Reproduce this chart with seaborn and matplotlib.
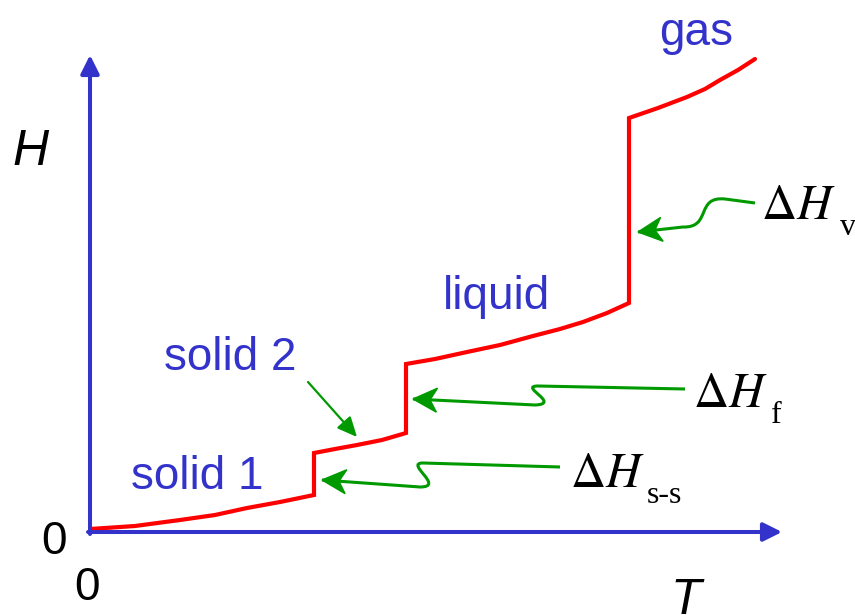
import numpy as np
import matplotlib
matplotlib.use("Agg")
import matplotlib.pyplot as plt
import seaborn as sns
from matplotlib.path import Path
from matplotlib.patches import PathPatch, Polygon

# enthalpy vs temperature, schematic (units ~ pixels of the original sketch)
T = [0, 45, 90, 125, 157, 190, 224,
     224, 245, 267, 292, 316,
     316, 345, 377, 410, 443, 470, 493, 517, 539,
     539, 568, 597, 615, 630, 648, 665]
H = [3, 6, 12, 17, 24, 30, 37,
     79, 83, 87, 92, 99,
     168, 173, 180, 187, 196, 203, 210, 219, 229,
     414, 424, 435, 443, 452, 462, 473]

phase_labels = ["solid 1", "solid 2", "liquid", "gas"]
phase_pos = [(197, 489), (230, 370), (496, 309), (696, 45)]

dh_main = [r"$\Delta H$", r"$\Delta H$", r"$\Delta H$"]
dh_sub = ["v", "f", "s-s"]
dh_pos = [(761, 219), (693, 407), (570, 487)]
dh_sub_pos = [(840, 235), (771, 423), (647, 503)]

BLUE = "#3333CC"
RED = "#FF0000"
GREEN = "#009A00"

sns.set_theme(style="white")
plt.rcParams["font.family"] = ["Liberation Sans", "DejaVu Sans"]
plt.rcParams["mathtext.fontset"] = "stix"
plt.rcParams["text.color"] = "black"


def px(x, y):
    # picture pixel -> data coords (origin at axis corner)
    return (x - 90, 532 - y)


fig = plt.figure(figsize=(8.55, 6.15), dpi=100)
ax = fig.add_axes([0, 0, 1, 1])
ax.set_xlim(-90, 765)
ax.set_ylim(-83, 532)
ax.axis("off")

# axes with arrow heads
arrow_kw = dict(arrowstyle="-|>,head_length=0.8,head_width=0.4", color=BLUE, lw=2.9,
                shrinkA=0, shrinkB=0, mutation_scale=14)
ax.annotate("", xy=(692, 0), xytext=(-2, 0), arrowprops=arrow_kw)
ax.annotate("", xy=(0, 477), xytext=(0, -2), arrowprops=arrow_kw)

# the H(T) curve
sns.lineplot(x=T, y=H, sort=False, estimator=None, color=RED, lw=3.0,
             solid_joinstyle="miter", ax=ax)


def stealth(tip, before, L=24, W=12, notch=7):
    tip = np.array(tip, float)
    u = tip - np.array(before, float)
    u /= np.hypot(*u)
    n = np.array([-u[1], u[0]])
    pts = [tip, tip - L * u + W * n, tip - (L - notch) * u, tip - L * u - W * n]
    ax.add_patch(Polygon(pts, closed=True, fc=GREEN, ec=GREEN, lw=1))


def wavy(points, codes):
    verts = [px(*p) for p in points]
    ax.add_patch(PathPatch(Path(verts, codes), fill=False, ec=GREEN, lw=2.2))
    stealth(verts[-1], verts[-2])


L4 = [Path.MOVETO, Path.LINETO, Path.CURVE4, Path.CURVE4, Path.CURVE4, Path.LINETO]
wavy([(755, 203), (725, 199), (695, 196), (712, 228), (683, 227), (638, 232)], L4)
wavy([(685, 389), (538, 386), (518, 386), (562, 404), (535, 405), (413, 399)], L4)
wavy([(560, 467), (423, 463), (404, 463), (446, 487), (420, 487), (322, 480)], L4)

# solid 2 pointer
ax.annotate("", xy=px(357, 437), xytext=px(308, 382),
            arrowprops=dict(arrowstyle="-|>,head_length=1.2,head_width=0.55", color=GREEN,
                            lw=1.6, shrinkA=0, shrinkB=0, mutation_scale=10))

for lab, (x, y) in zip(phase_labels, phase_pos):
    ax.text(*px(x, y), lab, color=BLUE, fontsize=33, ha="center", va="baseline")

for m, s, p, sp in zip(dh_main, dh_sub, dh_pos, dh_sub_pos):
    ax.text(*px(*p), m, fontsize=35, color="black", ha="left", va="baseline")
    ax.text(*px(*sp), s, fontsize=23, color="black", ha="left", va="baseline",
            family="Liberation Serif")

ax.text(*px(31, 165), "H", fontsize=36, style="italic", color="black",
        ha="center", va="baseline")
ax.text(*px(686, 614), "T", fontsize=36, style="italic", color="black",
        ha="center", va="baseline")
ax.text(*px(54, 554), "0", fontsize=33, color="black", ha="center", va="baseline")
ax.text(*px(87, 600), "0", fontsize=33, color="black", ha="center", va="baseline")

fig.savefig("out.png", dpi=100)
